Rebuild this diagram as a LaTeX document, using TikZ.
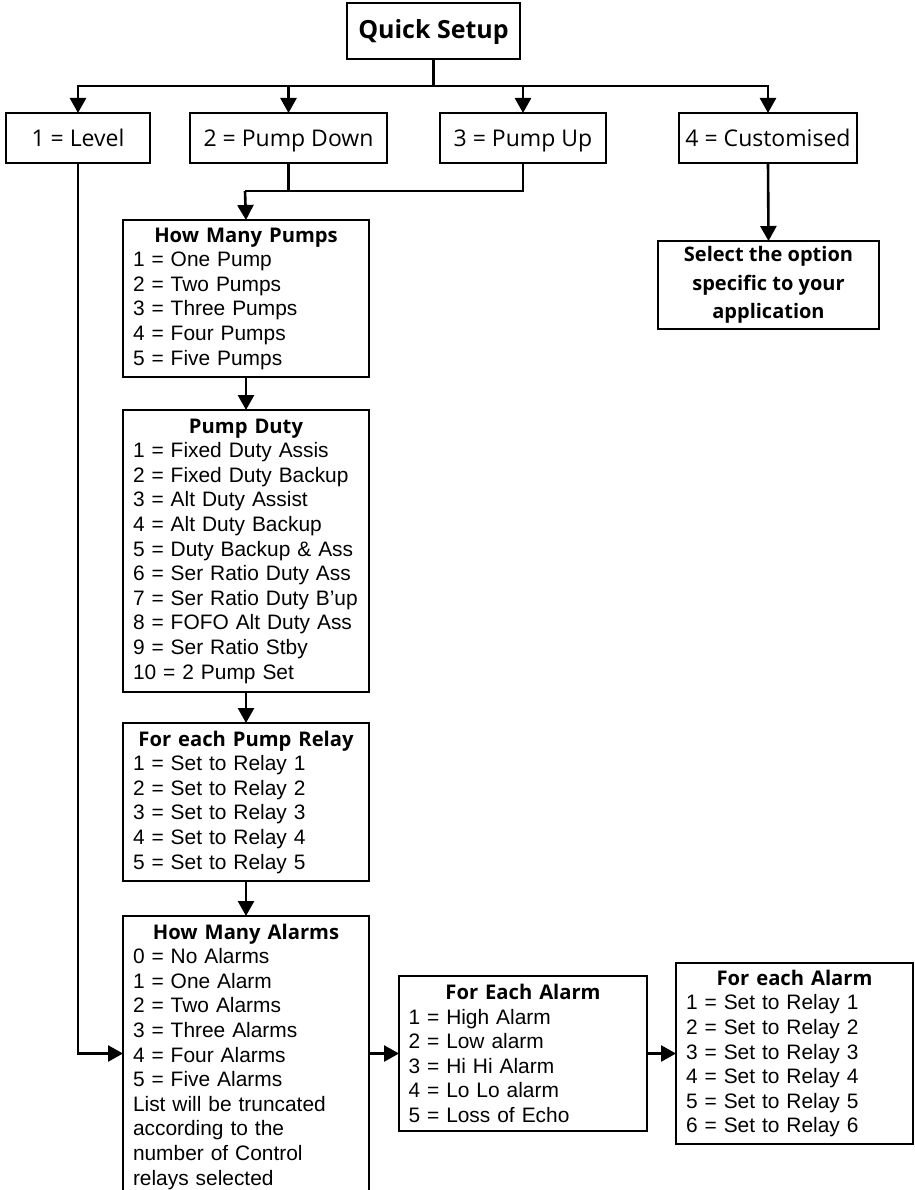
\documentclass[tikz,border=0pt]{standalone}
\usepackage{fontspec}
\setmainfont{Liberation Sans}
\newfontfamily\hfont{Open Sans}
\usetikzlibrary{arrows.meta}
\newcommand\hd[2]{\makebox[#1][c]{\hfont\bfseries\fontsize{20.2}{24.6}\selectfont #2}}
\begin{document}
\begin{tikzpicture}[x=1pt,y=-1pt,
  every node/.style={font=\fontsize{20.9}{24.6}\selectfont},
  listbox/.style={draw, line width=2pt, inner xsep=10pt, inner ysep=0pt, outer sep=0pt, align=left, anchor=north west},
  topbox/.style={draw, line width=2pt, inner sep=0pt, outer sep=0pt, minimum height=50pt, text height=17pt, text depth=0pt, font=\hfont\fontsize{23}{28}\selectfont},
  conn/.style={line width=2.6pt},
  arr/.style={conn, -{Triangle[length=15pt,width=16pt]}}
]
\useasboundingbox (0,0) rectangle (914,1190);
\clip (0,0) rectangle (914,1190);

% top level
\node[draw, line width=2pt, inner sep=0pt, outer sep=0pt, minimum width=173pt, minimum height=56pt, text height=19pt, text depth=3pt, font=\hfont\bfseries\fontsize{25}{30}\selectfont] (qs) at (433.5,31) {Quick Setup};

\node[topbox, minimum width=144pt] (lvl) at (78,138) {1 = Level};
\node[topbox, minimum width=197pt] (pd) at (288.5,138) {2 = Pump Down};
\node[topbox, minimum width=166pt] (pu) at (523,138) {3 = Pump Up};
\node[topbox, minimum width=178pt] (cu) at (768,138) {4 = Customised};

\node[draw, line width=2pt, inner sep=0pt, outer sep=0pt, minimum width=221pt, minimum height=88pt, align=center, font=\hfont\bfseries\fontsize{20}{28.5}\selectfont] (sel) at (768.5,285) {Select the option\\specific to your\\application};

% left column
\node[listbox, minimum height=157pt, text width=226pt] (hmp) at (123,220)
 {\hd{226pt}{How Many Pumps}\\1 = One Pump\\2 = Two Pumps\\3 = Three Pumps\\4 = Four Pumps\\5 = Five Pumps};

\node[listbox, minimum height=282pt, text width=226pt] (duty) at (123,410)
 {\hd{226pt}{Pump Duty}\\1 = Fixed Duty Assis\\2 = Fixed Duty Backup\\3 = Alt Duty Assist\\4 = Alt Duty Backup\\5 = Duty Backup \& Ass\\6 = Ser Ratio Duty Ass\\7 = Ser Ratio Duty B’up\\8 = FOFO Alt Duty Ass\\9 = Ser Ratio Stby\\10 = 2 Pump Set};

\node[listbox, minimum height=158pt, text width=226pt] (rel) at (123,723)
 {\hd{226pt}{For each Pump Relay}\\1 = Set to Relay 1\\2 = Set to Relay 2\\3 = Set to Relay 3\\4 = Set to Relay 4\\5 = Set to Relay 5};

\node[listbox, minimum height=281pt, text width=226pt] (alm) at (123,916)
 {\hd{226pt}{How Many Alarms}\\0 = No Alarms\\1 = One Alarm\\2 = Two Alarms\\3 = Three Alarms\\4 = Four Alarms\\5 = Five Alarms\\List will be truncated\\according to the\\number of Control\\relays selected};

\node[listbox, minimum height=155pt, text width=229pt, inner xsep=9.5pt] (mid) at (399,976)
 {\hd{229pt}{For Each Alarm}\\1 = High Alarm\\2 = Low alarm\\3 = Hi Hi Alarm\\4 = Lo Lo alarm\\5 = Loss of Echo};

\node[listbox, minimum height=181pt, text width=217pt] (rt) at (676,963)
 {\hd{217pt}{For each Alarm}\\1 = Set to Relay 1\\2 = Set to Relay 2\\3 = Set to Relay 3\\4 = Set to Relay 4\\5 = Set to Relay 5\\6 = Set to Relay 6};

% connectors
\coordinate (j) at (433.5,86);
\draw[conn] (qs.south) -- (j);
\draw[arr] (j) -| (lvl.north);
\draw[arr] (j) -| (pd.north);
\draw[arr] (j) -| (pu.north);
\draw[arr] (j) -| (cu.north);

\coordinate (m) at (245,191);
\draw[conn] (pd.south) |- (m);
\draw[conn] (pu.south) |- (m);
\draw[arr] (m) -- (hmp.north);

\draw[arr] (hmp.south) -- (duty.north);
\draw[arr] (duty.south) -- (rel.north);
\draw[arr] (rel.south) -- (alm.north);

\draw[arr] (cu.south) -- (sel.north);

\draw[arr] (lvl.south) |- (alm.west |- mid.west);
\draw[arr] (alm.east |- mid.west) -- (mid.west);
\draw[arr] (mid.east) -- (rt.west |- mid.east);
\end{tikzpicture}
\end{document}
